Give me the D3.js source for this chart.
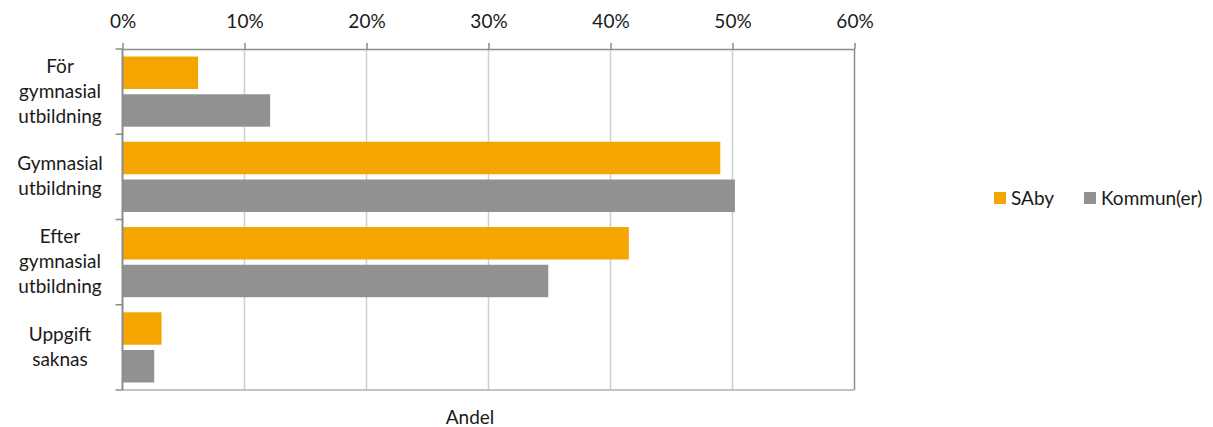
<!DOCTYPE html>
<html>
<head>
<meta charset="utf-8">
<script src="https://cdn.jsdelivr.net/npm/d3@7"></script>
<style>
  body { margin: 0; background: #fff; }
  text { font-family: Lato, "Open Sans", sans-serif; fill: #1a1a1a; }
</style>
</head>
<body>
<script>
// data
var categories = ["För gymnasial utbildning", "Gymnasial utbildning", "Efter gymnasial utbildning", "Uppgift saknas"];
var labelLines = [["För", "gymnasial", "utbildning"], ["Gymnasial", "utbildning"], ["Efter", "gymnasial", "utbildning"], ["Uppgift", "saknas"]];
var series = ["SAby", "Kommun(er)"];
var saby = [0.062, 0.49, 0.415, 0.032];
var kommun = [0.121, 0.502, 0.349, 0.026];
var ticks = [0, 0.1, 0.2, 0.3, 0.4, 0.5, 0.6];
var colors = ["#F5A500", "#919191"];

var width = 1213, height = 427;
var pLeft = 122.5, pRight = 854.5, pTop = 49, pBottom = 390;
var fs = 19;

var svg = d3.select("body").append("svg")
    .attr("width", width)
    .attr("height", height);

var x = d3.scaleLinear().domain([0, 0.6]).range([pLeft, pRight]);
var y = d3.scaleBand().domain(categories).range([pTop, pBottom]);
var inner = d3.scaleBand().domain(series).range([0, y.bandwidth()])
    .paddingInner(0.14).paddingOuter(0.2);

// grid
svg.append("g")
  .selectAll("line")
  .data(ticks.slice(1, -1))
  .join("line")
    .attr("x1", d => x(d)).attr("x2", d => x(d))
    .attr("y1", pTop).attr("y2", pBottom)
    .attr("stroke", "#cfcfcf").attr("stroke-width", 1.5);

// right border and bottom line
svg.append("line")
    .attr("x1", pRight).attr("x2", pRight).attr("y1", pTop).attr("y2", pBottom)
    .attr("stroke", "#8c8c8c").attr("stroke-width", 1.5);
svg.append("line")
    .attr("x1", pLeft).attr("x2", pRight).attr("y1", pBottom).attr("y2", pBottom)
    .attr("stroke", "#b0b0b0").attr("stroke-width", 1.5);

// bars
var rows = categories.map((c, i) => ({cat: c, values: [saby[i], kommun[i]]}));
var grp = svg.append("g").selectAll("g")
  .data(rows)
  .join("g")
    .attr("transform", d => "translate(0," + y(d.cat) + ")");

grp.selectAll("rect")
  .data(d => d.values.map((v, j) => ({s: series[j], v: v, j: j})))
  .join("rect")
    .attr("x", x(0))
    .attr("y", d => inner(d.s))
    .attr("width", d => x(d.v) - x(0))
    .attr("height", inner.bandwidth())
    .attr("fill", d => colors[d.j]);

// top axis
var xAxis = svg.append("g")
    .attr("transform", "translate(0," + pTop + ")")
    .call(d3.axisTop(x).tickValues(ticks).tickFormat(d3.format(".0%")).tickSize(6).tickSizeOuter(0));
xAxis.select(".domain").attr("stroke", "#8c8c8c").attr("stroke-width", 1.5);
xAxis.selectAll(".tick line").attr("stroke", "#8c8c8c").attr("stroke-width", 1.5);
xAxis.selectAll(".tick text")
    .attr("font-family", "Lato, sans-serif")
    .attr("font-size", fs)
    .attr("fill", "#1a1a1a")
    .attr("y", -21);

// left axis
var yAxis = svg.append("g")
    .attr("transform", "translate(" + pLeft + ",0)");
yAxis.append("line")
    .attr("x1", 0).attr("x2", 0).attr("y1", pTop).attr("y2", pBottom)
    .attr("stroke", "#8c8c8c").attr("stroke-width", 2);
yAxis.selectAll(".tk")
  .data(categories.map(c => y(c)).concat([pBottom]))
  .join("line")
    .attr("class", "tk")
    .attr("x1", -7).attr("x2", 0)
    .attr("y1", d => d).attr("y2", d => d)
    .attr("stroke", "#8c8c8c").attr("stroke-width", 1.5);

// category labels
var lineH = 25;
svg.append("g").selectAll("text")
  .data(categories)
  .join("text")
    .attr("text-anchor", "middle")
    .attr("font-size", fs)
    .each(function(c, i) {
      var lines = labelLines[i];
      var cy = y(c) + y.bandwidth() / 2;
      var y0 = cy - (lines.length - 1) * lineH / 2 + 6;
      d3.select(this).selectAll("tspan")
        .data(lines)
        .join("tspan")
          .attr("x", 60)
          .attr("y", (d, k) => y0 + k * lineH)
          .text(d => d);
    });

// axis title
svg.append("text")
    .attr("x", 470).attr("y", 424)
    .attr("text-anchor", "middle")
    .attr("font-size", fs)
    .text("Andel");

// legend
var legX = [994, 1084];
var leg = svg.append("g").selectAll("g")
  .data(series)
  .join("g")
    .attr("transform", (d, i) => "translate(" + legX[i] + ",192)");
leg.append("rect")
    .attr("width", 12).attr("height", 12)
    .attr("fill", (d, i) => colors[i]);
leg.append("text")
    .attr("x", 17).attr("y", 13)
    .attr("font-size", fs)
    .text(d => d);
</script>
</body>
</html>
